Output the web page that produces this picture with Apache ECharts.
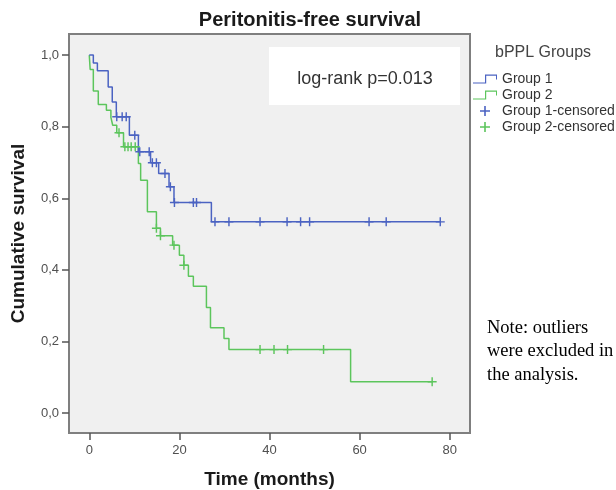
<!DOCTYPE html>
<html>
<head>
<meta charset="utf-8">
<script src="https://cdn.jsdelivr.net/npm/echarts@6/dist/echarts.min.js"></script>
<style>
  html, body { margin: 0; padding: 0; background: #fff; }
  #main { width: 616px; height: 490px; }
</style>
</head>
<body>
<div id="main"></div>
<script>
// Kaplan-Meier step points (time in months, cumulative survival)
var group1Times = [0, 0.9, 1.8, 4.2, 5.1, 6.0, 8.9, 10.9, 13.6, 15.4, 17.7, 18.8, 27.1, 78];
var group1Surv = [1.0, 0.978, 0.956, 0.911, 0.869, 0.828, 0.776, 0.730, 0.699, 0.669, 0.632, 0.588, 0.534, 0.534];
var group1CensorTimes = [6.1, 7.3, 8.2, 10.1, 11.2, 13.3, 14.0, 14.9, 16.8, 18.0, 18.9, 23.1, 23.8, 27.9, 31.0, 37.9, 43.9, 46.9, 48.9, 62.1, 65.9, 77.9];
var group1CensorSurv = [0.828, 0.828, 0.828, 0.776, 0.730, 0.730, 0.699, 0.699, 0.669, 0.632, 0.588, 0.588, 0.588, 0.534, 0.534, 0.534, 0.534, 0.534, 0.534, 0.534, 0.534, 0.534];

var group2Times = [0, 0.2, 0.9, 2.0, 3.8, 4.8, 5.2, 6.1, 7.6, 10.9, 11.4, 12.9, 14.9, 15.8, 18.5, 20.0, 21.0, 22.0, 23.1, 26.0, 26.9, 29.9, 31.0, 58.0, 76.1];
var group2Surv = [1.0, 0.96, 0.90, 0.862, 0.846, 0.826, 0.804, 0.783, 0.744, 0.697, 0.650, 0.562, 0.516, 0.495, 0.469, 0.441, 0.413, 0.382, 0.354, 0.295, 0.238, 0.208, 0.177, 0.087, 0.087];
var group2CensorTimes = [6.6, 7.9, 8.6, 9.3, 10.2, 14.9, 15.8, 18.8, 21.0, 37.9, 41.0, 44.0, 52.0, 76.1];
var group2CensorSurv = [0.783, 0.744, 0.744, 0.744, 0.744, 0.516, 0.495, 0.469, 0.413, 0.177, 0.177, 0.177, 0.177, 0.087];

var xTicks = [0, 20, 40, 60, 80];
var yTicks = [0, 0.2, 0.4, 0.6, 0.8, 1.0];

function pairs(xs, ys) {
    var out = [];
    for (var i = 0; i < xs.length; i++) out.push([xs[i], ys[i]]);
    return out;
}

var blue = '#4b63c2';
var green = '#5cc55c';
var font = "'Liberation Sans', Arial, sans-serif";
var plusPath = 'path://M4.2,0h1.6v4.2h4.2v1.6h-4.2v4.2h-1.6v-4.2h-4.2v-1.6h4.2z';
var stepPath = 'path://M0,9H12V1H24V6H23V2.2H13.2V10H0Z';

var chart = echarts.init(document.getElementById('main'), null, { renderer: 'canvas' });
var option = {
    animation: false,
    backgroundColor: '#fff',
    grid: {
        left: 69, right: 146, top: 34, bottom: 57,
        containLabel: false,
        outerBoundsMode: 'none',
        show: true,
        backgroundColor: '#f0f0f0',
        borderColor: '#7f7f7f',
        borderWidth: 2
    },
    xAxis: {
        type: 'value',
        min: -4.5, max: 84.5,
        name: 'Time (months)',
        nameLocation: 'middle',
        nameGap: 37,
        nameTextStyle: { fontFamily: font, fontSize: 19, fontWeight: 'bold', color: '#1a1a1a' },
        axisLine: { show: false, onZero: false },
        splitLine: { show: false },
        axisTick: { show: true, length: 7, customValues: xTicks, lineStyle: { color: '#555', width: 1.5 } },
        axisLabel: { customValues: xTicks, margin: 11, fontFamily: font, fontSize: 13, color: '#505050' }
    },
    yAxis: {
        type: 'value',
        min: -0.056, max: 1.059,
        name: 'Cumulative survival',
        nameLocation: 'middle',
        nameGap: 41,
        nameTextStyle: { fontFamily: font, fontSize: 19, fontWeight: 'bold', color: '#1a1a1a' },
        axisLine: { show: false, onZero: false },
        splitLine: { show: false },
        axisTick: { show: true, length: 7, customValues: yTicks, lineStyle: { color: '#555', width: 1.5 } },
        axisLabel: {
            customValues: yTicks, margin: 10, fontFamily: font, fontSize: 13, color: '#505050',
            formatter: function (v) { return v.toFixed(1).replace('.', ','); }
        }
    },
    legend: {
        orient: 'vertical',
        left: 468, top: 67,
        itemWidth: 24, itemHeight: 10, itemGap: 2,
        selectedMode: false,
        textStyle: { fontFamily: font, fontSize: 14, color: '#333' },
        data: [
            { name: 'Group 1', icon: stepPath },
            { name: 'Group 2', icon: stepPath },
            { name: 'Group 1-censored', icon: plusPath },
            { name: 'Group 2-censored', icon: plusPath }
        ]
    },
    graphic: [
        {
            type: 'text', x: 310, y: 20,
            style: { text: 'Peritonitis-free survival', font: 'bold 20px ' + font, fill: '#1a1a1a', textAlign: 'center', textVerticalAlign: 'middle', align: 'center', verticalAlign: 'middle' }
        },
        { type: 'rect', shape: { x: 269, y: 47, width: 191, height: 58 }, style: { fill: '#fff' } },
        {
            type: 'text', x: 365, y: 79,
            style: { text: 'log-rank p=0.013', font: '18px ' + font, fill: '#333', textAlign: 'center', textVerticalAlign: 'middle', align: 'center', verticalAlign: 'middle' }
        },
        {
            type: 'text', x: 495, y: 53,
            style: { text: 'bPPL Groups', font: '16px ' + font, fill: '#444', textVerticalAlign: 'middle', verticalAlign: 'middle' }
        },
        {
            type: 'text', x: 487, y: 316,
            style: { text: 'Note: outliers\nwere excluded in\nthe analysis.', font: '18.5px "Liberation Serif", "Times New Roman", serif', fill: '#000', lineHeight: 23.5 }
        }
    ],
    series: [
        {
            name: 'Group 1', type: 'line', step: 'end', showSymbol: false, symbol: 'none',
            data: pairs(group1Times, group1Surv),
            itemStyle: { color: blue },
            lineStyle: { color: blue, width: 1.5 },
            z: 3
        },
        {
            name: 'Group 2', type: 'line', step: 'end', showSymbol: false, symbol: 'none',
            data: pairs(group2Times, group2Surv),
            itemStyle: { color: green },
            lineStyle: { color: green, width: 1.5 },
            z: 2
        },
        {
            name: 'Group 1-censored', type: 'scatter', symbol: plusPath, symbolSize: 9,
            data: pairs(group1CensorTimes, group1CensorSurv),
            itemStyle: { color: blue, opacity: 1 },
            z: 4
        },
        {
            name: 'Group 2-censored', type: 'scatter', symbol: plusPath, symbolSize: 9,
            data: pairs(group2CensorTimes, group2CensorSurv),
            itemStyle: { color: green, opacity: 1 },
            z: 4
        }
    ]
};
chart.setOption(option);
</script>
</body>
</html>
